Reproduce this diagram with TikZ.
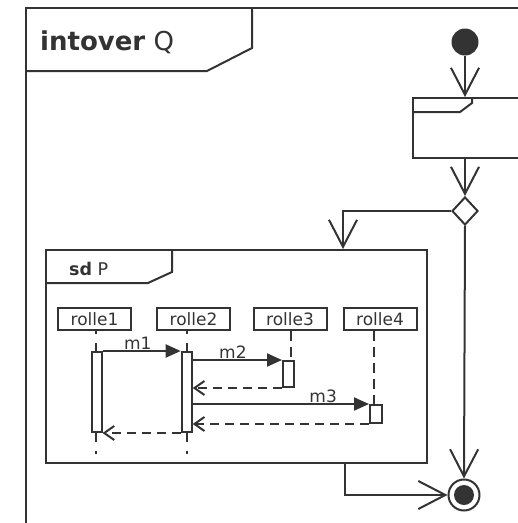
\documentclass[tikz,border=0pt]{standalone}
\usepackage{fontspec}
\setmainfont{DejaVu Sans}
\usepackage{tikz}
\usetikzlibrary{arrows.meta,shapes.geometric}
\definecolor{ink}{HTML}{333333}
\tikzset{
  frame/.style={draw=ink, line width=2pt},
  flow/.style={draw=ink, line width=2pt, -{Straight Barb[length=27pt, width=28pt]}},
  decision/.style={diamond, draw=ink, line width=2pt, minimum width=26pt, minimum height=28pt, inner sep=0pt},
  lifebox/.style={rectangle, draw=ink, line width=2pt, minimum width=73pt, minimum height=22pt, inner sep=0pt},
  lifeline/.style={ink, line width=2pt, dash pattern=on 10pt off 6pt},
  longline/.style={lifeline, dash pattern=on 9pt off 9pt, dash phase=6pt},
  actbar/.style={rectangle, draw=ink, fill=white, line width=2pt, minimum width=10pt, inner sep=0pt},
  msg/.style={ink, line width=2pt, -{Triangle[length=15pt, width=13pt]}},
  reply/.style={ink, line width=2pt, dash pattern=on 9pt off 6pt, -{Straight Barb[length=10pt, width=14pt]}},
}
\begin{document}
\begin{tikzpicture}[x=1pt, y=-1pt, text=ink, font=\fontsize{17}{20}\selectfont]
\useasboundingbox (0,0) rectangle (518,523);
\clip (0,0) rectangle (518,523);
\draw[frame] (26,530) -- (26,8) -- (530,8);
\draw[frame] (26,71) -- (207,71) -- (252,48) -- (252,8);
\node[anchor=base west, inner sep=0pt, font=\fontsize{26}{30}\selectfont] (title) at (40,50) {\textbf{intover} Q};
\node[circle, fill=ink, minimum size=27pt, inner sep=0pt] (start) at (465,42) {};
\node[frame, rectangle, minimum width=130pt, minimum height=60pt, anchor=north west, inner sep=0pt] (act) at (412,97) {};
\draw[frame] (act.north west) ++(0,15) -- ++(48,0) -- ++(12,-9) -- ++(0,-6);
\node[decision] (dec) at (465,211) {};
\node[frame, rectangle, minimum width=381pt, minimum height=213pt, anchor=north west, inner sep=0pt] (sdP) at (45,249) {};
\draw[frame] (sdP.north west) ++(0,34) -- ++(103,0) -- ++(24,-11) -- ++(0,-23);
\node[anchor=base west, inner sep=0pt, font=\fontsize{17.5}{20}\selectfont] (sdlabel) at (69,275) {\textbf{sd} P};
\node[circle, draw=ink, line width=2pt, minimum size=31pt, inner sep=0pt] (fin) at (464,495) {};
\fill[ink] (fin.center) circle (10pt);
\draw[flow] (start) -- (start |- act.north);
\draw[flow] (start |- act.south) -- (dec.north);
\draw[flow] (dec.west) -| ([xshift=298pt]sdP.north west);
\draw[flow] (dec.south) -- (fin.north);
\draw[flow] ([xshift=300pt]sdP.south west) |- (fin.west);
\foreach \n/\x in {1/94.5,2/193.5,3/290,4/380}
  \node[lifebox] (r\n) at (\x,319) {rolle\n};
\foreach \n/\d in {1/1.5,2/-6.5}
  \draw[longline] ([xshift=\d pt]r\n.south) -- ++(0,123);
\foreach \n/\d/\len in {3/0.5/31,4/-6/75}
  \draw[lifeline] ([xshift=\d pt]r\n.south) -- ++(0,\len);
\node[actbar, minimum height=80pt] (b1) at (96.5,392) {};
\node[actbar, minimum height=80pt] (b2) at (186.7,392) {};
\node[actbar, minimum height=26pt, minimum width=11pt] (b3) at (288.5,374) {};
\node[actbar, minimum height=18pt, minimum width=12pt] (b4) at (376,414) {};
\draw[msg] (b1.north east) -- node[above, pos=0.45, inner sep=1pt] (m1) {m1} (b2.north west);
\draw[msg] (b2.east |- b3.north) -- node[above, pos=0.45, inner sep=1pt] (m2) {m2} (b3.north west);
\draw[reply] (b3.south west) -- (b2.east |- b3.south);
\draw[msg] (b2.east |- b4.north) -- node[above, pos=0.74, inner sep=0.5pt] (m3) {m3} (b4.north west);
\draw[reply] (b4.south west) -- (b2.east |- b4.south);
\draw[reply] (b2.south west) -- (b1.south east);
\end{tikzpicture}
\end{document}
